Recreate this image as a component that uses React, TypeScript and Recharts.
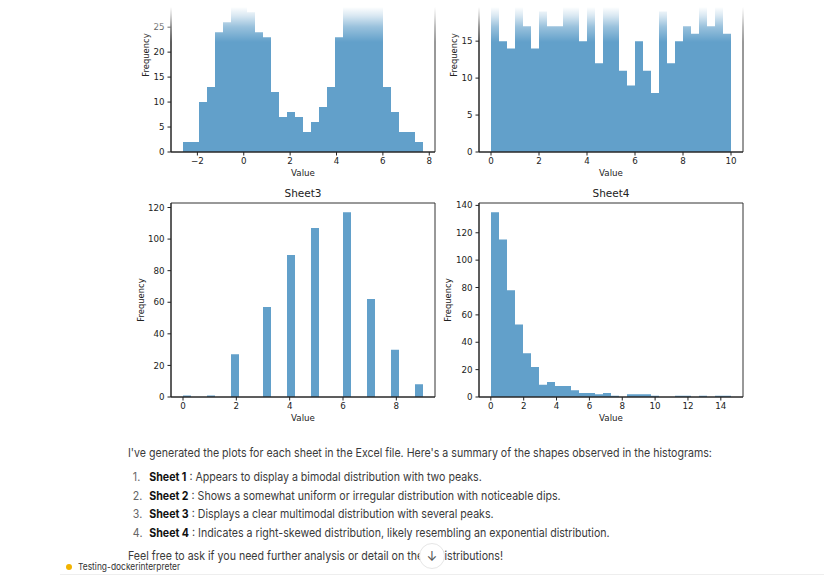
import React from 'react';
import { AreaChart, Area, XAxis, YAxis, Label, ReferenceArea } from 'recharts';

// histogram counts, 30 bins per sheet (tops of some sheet1/sheet2 bins are hidden by the scroll fade)
const sheet1Counts = [2, 2, 10, 13, 24, 26, 29, 32, 28, 24, 23, 12, 7, 8, 7, 4, 6, 9, 13, 23, 30, 34, 37, 35, 31, 13, 8, 4, 4, 2];
const sheet2Counts = [20, 15, 14, 21, 17, 14, 19, 17, 17, 22, 25, 15, 20, 12, 22, 23, 11, 9, 15, 11, 8, 19, 12, 15, 17, 16, 21, 17, 20, 16];
const sheet3Counts = [1, 0, 0, 1, 0, 0, 27, 0, 0, 0, 57, 0, 0, 90, 0, 0, 107, 0, 0, 0, 117, 0, 0, 62, 0, 0, 30, 0, 0, 8];
const sheet4Counts = [135, 115, 78, 53, 32, 22, 9, 11, 8, 8, 5, 3, 3, 2, 3, 1, 0, 2, 2, 2, 1, 0, 0, 1, 1, 0, 1, 0, 1, 1];

// bin range [min, max] of each sheet's values
const sheet1Range = [-2.62, 7.73];
const sheet2Range = [0, 10];
const sheet3Range = [0, 9];
const sheet4Range = [0.01, 14.62];

const sheet1XTicks = [-2, 0, 2, 4, 6, 8];
const sheet2XTicks = [0, 2, 4, 6, 8, 10];
const sheet3XTicks = [0, 2, 4, 6, 8];
const sheet4XTicks = [0, 2, 4, 6, 8, 10, 12, 14];

const sheet1YTicks = [0, 5, 10, 15, 20, 25, 30, 35];
const sheet2YTicks = [0, 5, 10, 15, 20, 25];
const sheet3YTicks = [0, 20, 40, 60, 80, 100, 120];
const sheet4YTicks = [0, 20, 40, 60, 80, 100, 120, 140];

const listItems = [
  ['Sheet 1', 'Appears to display a bimodal distribution with two peaks.'],
  ['Sheet 2', 'Shows a somewhat uniform or irregular distribution with noticeable dips.'],
  ['Sheet 3', 'Displays a clear multimodal distribution with several peaks.'],
  ['Sheet 4', 'Indicates a right-skewed distribution, likely resembling an exponential distribution.'],
];

const BLUE = '#62a0ca'; // tab:blue with alpha .7 on white
const MPL_FONT = 'DejaVu Sans';
const UI_FONT = 'Inter, "Noto Sans", sans-serif';
const SQUEEZE = 0.885; // chat text is narrower than plain Inter

// step points for the histogram outline
const toSteps = (counts: number[], range: number[]) => {
  const w = (range[1] - range[0]) / counts.length;
  const pts = counts.map((c, i) => ({ x: range[0] + i * w, y: c }));
  pts.push({ x: range[1], y: counts[counts.length - 1] });
  return pts;
};

const fmt = (v: number) => String(v).replace('-', '\u2212');

const PW = 264;
const PH = 194;
const YAW = 52;
const MT = 25;
const XAH = 35;

interface HistProps {
  title: string;
  counts: number[];
  range: number[];
  xTicks: number[];
  yTicks: number[];
  left: number;
  top: number;
  labelGap: number;
}

const Hist: React.FC<HistProps> = ({ title, counts, range, xTicks, yTicks, left, top, labelGap }) => {
  const pad = (range[1] - range[0]) * 0.05;
  const xDomain = [range[0] - pad, range[1] + pad];
  const yMax = Math.max(...counts) * 1.05;
  const tickStyle = { fontSize: 8.7, fill: '#222', fontFamily: MPL_FONT };
  return (
    <div style={{ position: 'absolute', left: left - YAW, top: top - MT }}>
      <AreaChart width={YAW + PW + 10} height={MT + PH + XAH} data={toSteps(counts, range)}
        margin={{ top: MT, right: 10, bottom: 0, left: 0 }}>
        <XAxis dataKey="x" type="number" domain={xDomain} ticks={xTicks} allowDataOverflow
          height={XAH} tick={tickStyle} tickFormatter={fmt} tickSize={3.5} tickMargin={2.5}
          axisLine={{ stroke: '#222' }} tickLine={{ stroke: '#222' }}>
          <Label content={({ viewBox }: any) => (
            <g>
              <text x={viewBox.x + viewBox.width / 2} y={viewBox.y + 24} textAnchor="middle"
                fontSize={8.7} fontFamily={MPL_FONT} fill="#222">Value</text>
              <text x={viewBox.x + viewBox.width / 2} y={viewBox.y - PH - 6} textAnchor="middle"
                fontSize={10.5} fontFamily={MPL_FONT} fill="#222">{title}</text>
            </g>
          )} />
        </XAxis>
        <YAxis type="number" domain={[0, yMax]} ticks={yTicks} allowDataOverflow width={YAW}
          tick={tickStyle} tickSize={3.5} tickMargin={3}
          axisLine={{ stroke: '#222' }} tickLine={{ stroke: '#222' }}>
          <Label content={({ viewBox }: any) => {
            const cx = viewBox.x + YAW - labelGap;
            const cy = viewBox.y + viewBox.height / 2;
            return (
              <text x={cx} y={cy} textAnchor="middle" dominantBaseline="central"
                transform={`rotate(-90 ${cx} ${cy})`}
                fontSize={8.4} fontFamily={MPL_FONT} fill="#222">Frequency</text>
            );
          }} />
        </YAxis>
        <Area dataKey="y" type="stepAfter" fill={BLUE} fillOpacity={1} stroke="none"
          dot={false} activeDot={false} isAnimationActive={false} />
        {/* axes frame */}
        <ReferenceArea x1={xDomain[0]} x2={xDomain[1]} y1={0} y2={yMax} ifOverflow="visible"
          fill="none" stroke="#333" strokeWidth={1} />
      </AreaChart>
    </div>
  );
};

const App: React.FC = () => {
  const line = (top: number): React.CSSProperties => ({
    position: 'absolute', top, left: 128, whiteSpace: 'nowrap', lineHeight: '18px',
    transform: `scaleX(${SQUEEZE})`, transformOrigin: '0 0',
  });
  return (
    <div style={{
      position: 'fixed', left: 0, top: 0, width: 824, height: 576, overflow: 'hidden',
      background: '#fff', fontFamily: UI_FONT, fontSize: 12, color: '#3a3a3a',
    }}>
      <Hist title="Sheet1" counts={sheet1Counts} range={sheet1Range} xTicks={sheet1XTicks}
        yTicks={sheet1YTicks} left={171} top={-42} labelGap={25} />
      <Hist title="Sheet2" counts={sheet2Counts} range={sheet2Range} xTicks={sheet2XTicks}
        yTicks={sheet2YTicks} left={479} top={-42} labelGap={25} />
      <Hist title="Sheet3" counts={sheet3Counts} range={sheet3Range} xTicks={sheet3XTicks}
        yTicks={sheet3YTicks} left={171} top={203} labelGap={30} />
      <Hist title="Sheet4" counts={sheet4Counts} range={sheet4Range} xTicks={sheet4XTicks}
        yTicks={sheet4YTicks} left={479} top={203} labelGap={31} />

      {/* scroll fade over the top of the images */}
      <div style={{
        position: 'absolute', left: 0, top: 0, width: 824, height: 42, pointerEvents: 'none',
        background: 'linear-gradient(to bottom, #fff 0px, #fff 7px, rgba(255,255,255,0.75) 16px, rgba(255,255,255,0.35) 27px, rgba(255,255,255,0) 42px)',
      }} />

      <div style={line(444)}>
        I've generated the plots for each sheet in the Excel file. Here's a summary of the shapes observed in the histograms:
      </div>
      {listItems.map(([name, desc], i) => (
        <div key={name} style={line(468 + i * 18.7)}>
          <span style={{ display: 'inline-block', width: 24, paddingLeft: 5.5, boxSizing: 'border-box', color: '#666' }}>{i + 1}.</span>
          <b style={{ color: '#111', fontWeight: 700 }}>{name}</b> : {desc}
        </div>
      ))}
      <div style={line(547)}>
        Feel free to ask if you need further analysis or detail on these distributions!
      </div>

      {/* scroll-down button */}
      <div style={{
        position: 'absolute', left: 419, top: 543, width: 26, height: 26, borderRadius: 13,
        background: '#fff', border: '1px solid #e6e6e6', boxSizing: 'border-box',
        display: 'flex', alignItems: 'center', justifyContent: 'center', fontSize: 13, color: '#555',
      }}>↓</div>

      <div style={{ position: 'absolute', left: 66, top: 564, width: 6, height: 6, borderRadius: 3, background: '#f2b300' }} />
      <div style={{
        position: 'absolute', left: 78, top: 561, fontSize: 9.5, lineHeight: '12px', color: '#333',
        transform: `scaleX(${SQUEEZE})`, transformOrigin: '0 0', whiteSpace: 'nowrap',
      }}>
        Testing-dockerinterpreter
      </div>
      <div style={{ position: 'absolute', left: 60, top: 574, width: 764, height: 1, background: '#eee' }} />
    </div>
  );
};

export default App;
